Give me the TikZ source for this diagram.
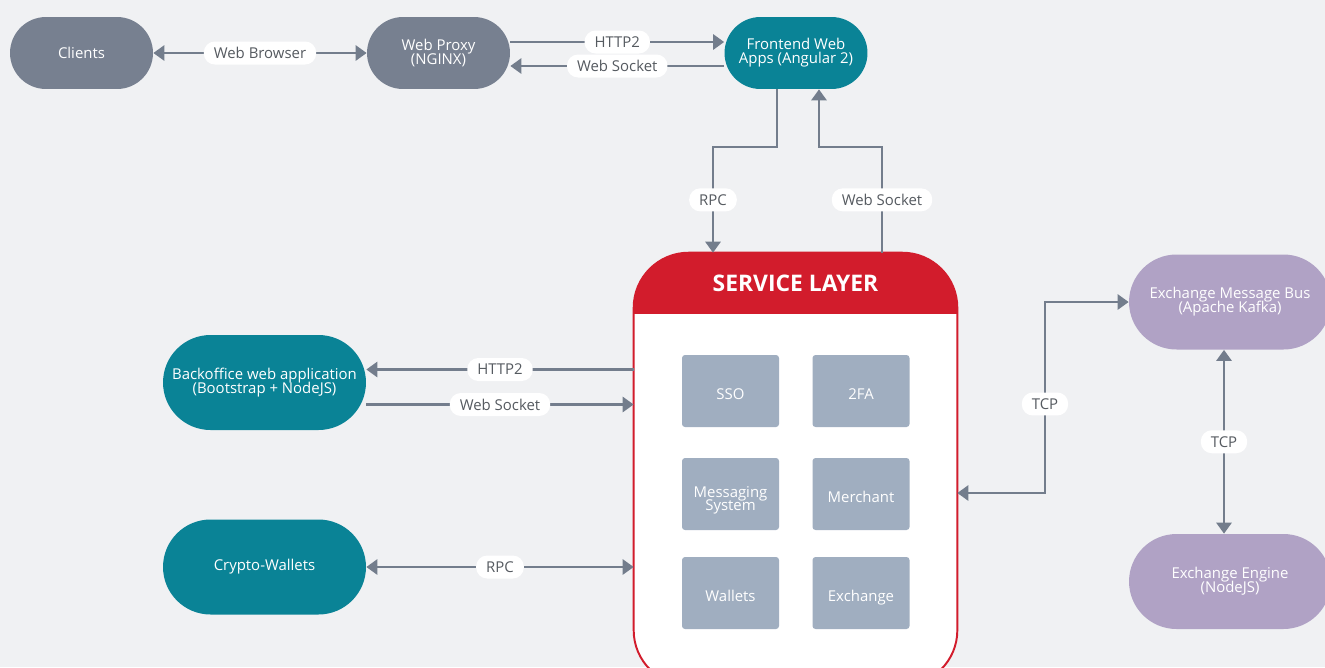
\documentclass[tikz,border=0pt]{standalone}
\usepackage{fontspec}
\setmainfont{Open Sans}
\usetikzlibrary{arrows.meta}
\definecolor{bgc}{HTML}{F0F1F3}
\definecolor{greyc}{HTML}{778090}
\definecolor{tealc}{HTML}{0A8396}
\definecolor{purplec}{HTML}{B0A2C5}
\definecolor{modc}{HTML}{A0AEC0}
\definecolor{redc}{HTML}{D21C2C}
\definecolor{linec}{HTML}{737D8C}
\definecolor{labc}{HTML}{555A60}
\newcommand\diagfont{\fontsize{8.5}{8}\selectfont}
\begin{document}
\begin{tikzpicture}[x=0.02cm,y=-0.02cm,>={Triangle[length=0.22cm,width=0.3cm]},
  pill/.style={rounded corners=0.72cm,minimum width=2.86cm,minimum height=1.44cm,text=white,align=center,font=\diagfont},
  bigpill/.style={pill,rounded corners=0.95cm,minimum width=4.06cm,minimum height=1.9cm},
  mod/.style={fill=modc,rounded corners=0.06cm,minimum width=1.94cm,minimum height=1.44cm,text=white,align=center,font=\diagfont},
  conn/.style={draw=linec,line width=1.6pt},
  lbl/.style={fill=white,rounded corners=0.22cm,text=labc,font=\diagfont,inner xsep=0.2cm,inner ysep=0cm,minimum height=0.46cm}]
  \useasboundingbox (0,0) rectangle (1325,667);
  \clip (0,0) rectangle (1325,667);
  \fill[bgc] (0,0) rectangle (1325,667);

  % top row
  \node[pill,fill=greyc] (cli) at (81.5,53) {Clients};
  \node[pill,fill=greyc] (proxy) at (438.5,53) {Web Proxy\\[-1.7pt](NGINX)};
  \node[pill,fill=tealc] (front) at (796,53) {Frontend Web\\Apps (Angular 2)};

  % service layer
  \node[fill=white,rounded corners=1.1cm,minimum width=6.46cm,minimum height=8.64cm] (svc) at (795.5,469) {};
  \begin{scope}
    \clip[rounded corners=1.1cm] (svc.south west) rectangle (svc.north east);
    \fill[redc] (svc.north west) rectangle ([yshift=-1.22cm]svc.north east);
  \end{scope}
  \draw[redc,line width=1.1pt,rounded corners=1.1cm] (svc.south west) rectangle (svc.north east);
  \node[text=white,font=\fontsize{13}{13}\selectfont\bfseries] (svctitle) at ([yshift=-0.62cm]svc.north) {SERVICE LAYER};
  \foreach \nm/\x/\y/\t in {sso/730.5/391/SSO, tfa/861/391/2FA,
      mer/861/494/Merchant, wal/730.5/593/Wallets, exc/861/593/Exchange}
    \node[mod,text height=1.9ex,text depth=0.1ex] (\nm) at (\x,\y) {\t};
  \node[mod,text height=19pt,text depth=0.5pt] (msg) at (730.5,494) {Messaging\\[-1.7pt]System};

  % left side
  \node[bigpill,fill=tealc] (back) at (264.5,382.5) {Backoffice web application\\[-1.7pt](Bootstrap + NodeJS)};
  \node[bigpill,fill=tealc] (cw) at (264.5,567) {Crypto-Wallets};

  % right side
  \node[bigpill,fill=purplec,minimum width=4.04cm] (bus) at (1230,302) {Exchange Message Bus\\[-1.7pt](Apache Kafka)};
  \node[bigpill,fill=purplec,minimum width=4.04cm] (eng) at (1230,581.5) {Exchange Engine\\[-1.7pt](NodeJS)};

  % connectors
  \draw[conn,<->] (cli) -- node[lbl] (lwb) {Web Browser} (proxy);
  \draw[conn,->] ([yshift=0.22cm]proxy.east) -- node[lbl] (lhttp1) {HTTP2} ([yshift=0.22cm]front.west);
  \draw[conn,->] ([yshift=-0.26cm]front.west) -- node[lbl] (lws1) {Web Socket} ([yshift=-0.26cm]proxy.east);

  \coordinate (rpcbend) at (713,147);
  \coordinate (wsbend) at (882,147);
  \draw[conn,->] ([xshift=-0.38cm]front.south) |- (rpcbend) -- node[lbl] (lrpc1) {RPC} (rpcbend |- svc.north);
  \draw[conn,->] (wsbend |- svc.north) -- node[lbl] (lws2) {Web Socket} (wsbend) -| ([xshift=0.46cm]front.south);

  \coordinate (bh) at ([yshift=0.26cm]back.east);
  \coordinate (bw) at ([yshift=-0.44cm]back.east);
  \draw[conn,<-] (bh) -- node[lbl] (lhttp2) {HTTP2} (bh -| svc.west);
  \draw[conn,->] (bw) -- node[lbl] (lws3) {Web Socket} (bw -| svc.west);
  \draw[conn,<->] (cw) -- node[lbl] (lrpc2) {RPC} (cw -| svc.west);

  \coordinate (tcpk) at (1045,0);
  \draw[conn,<->] ([yshift=-0.48cm]svc.east) -| node[lbl,pos=0.733] (ltcp1) {TCP} (tcpk |- bus.west) -- (bus.west);
  \draw[conn,<->] ([xshift=-0.12cm]bus.south) -- node[lbl] (ltcp2) {TCP} ([xshift=-0.12cm]eng.north);
\end{tikzpicture}
\end{document}
